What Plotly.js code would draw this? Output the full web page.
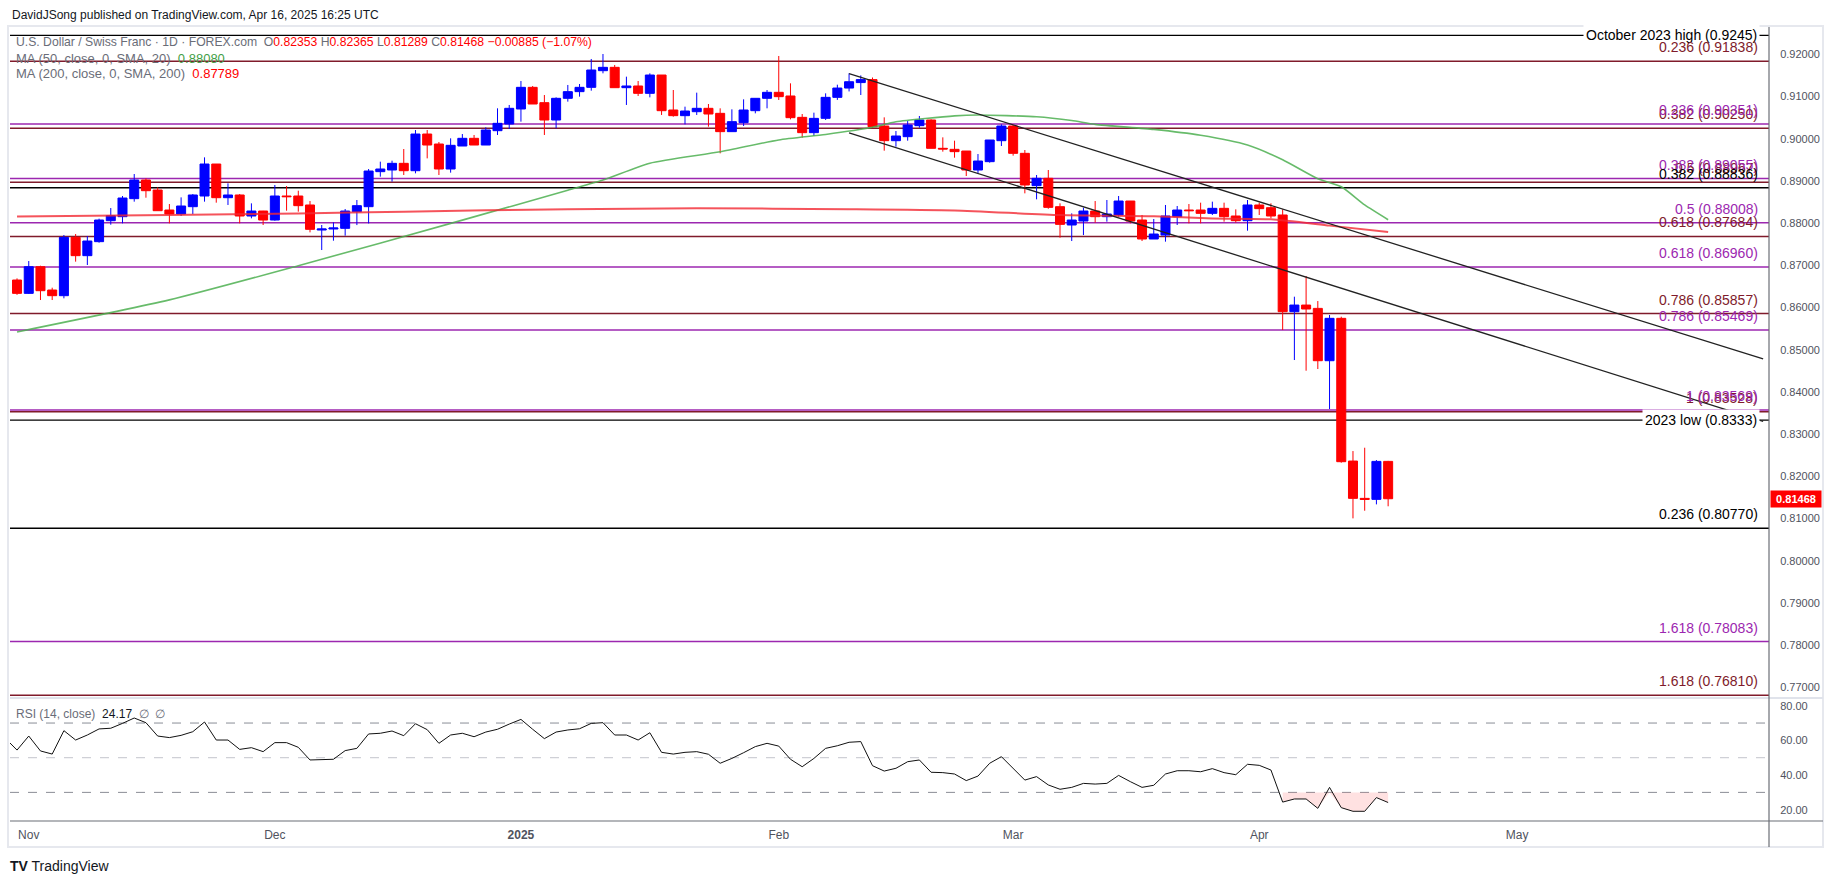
<!DOCTYPE html>
<html>
<head>
<meta charset="utf-8">
<script src="https://cdn.plot.ly/plotly-3.0.1.min.js"></script>
<style>
html,body{margin:0;padding:0;background:#fff;}
#chart{width:1835px;height:883px;}
</style>
</head>
<body>
<div id="chart"></div>
<script>
// ---------- DATA ----------
const dates = ['2024-10-31','2024-11-01','2024-11-04','2024-11-05','2024-11-06','2024-11-07','2024-11-08','2024-11-11','2024-11-12','2024-11-13','2024-11-14','2024-11-15','2024-11-18','2024-11-19','2024-11-20','2024-11-21','2024-11-22','2024-11-25','2024-11-26','2024-11-27','2024-11-28','2024-11-29','2024-12-02','2024-12-03','2024-12-04','2024-12-05','2024-12-06','2024-12-09','2024-12-10','2024-12-11','2024-12-12','2024-12-13','2024-12-16','2024-12-17','2024-12-18','2024-12-19','2024-12-20','2024-12-23','2024-12-24','2024-12-26','2024-12-27','2024-12-30','2024-12-31','2025-01-02','2025-01-03','2025-01-06','2025-01-07','2025-01-08','2025-01-09','2025-01-10','2025-01-13','2025-01-14','2025-01-15','2025-01-16','2025-01-17','2025-01-20','2025-01-21','2025-01-22','2025-01-23','2025-01-24','2025-01-27','2025-01-28','2025-01-29','2025-01-30','2025-01-31','2025-02-03','2025-02-04','2025-02-05','2025-02-06','2025-02-07','2025-02-10','2025-02-11','2025-02-12','2025-02-13','2025-02-14','2025-02-17','2025-02-18','2025-02-19','2025-02-20','2025-02-21','2025-02-24','2025-02-25','2025-02-26','2025-02-27','2025-02-28','2025-03-03','2025-03-04','2025-03-05','2025-03-06','2025-03-07','2025-03-10','2025-03-11','2025-03-12','2025-03-13','2025-03-14','2025-03-17','2025-03-18','2025-03-19','2025-03-20','2025-03-21','2025-03-24','2025-03-25','2025-03-26','2025-03-27','2025-03-28','2025-03-31','2025-04-01','2025-04-02','2025-04-03','2025-04-04','2025-04-07','2025-04-08','2025-04-09','2025-04-10','2025-04-11','2025-04-14','2025-04-15','2025-04-16'];

const openP = [0.86651,0.86335,0.86967,0.86414,0.86280,0.87662,0.87228,0.87560,0.88057,0.88152,0.88579,0.89021,0.88784,0.88310,0.88215,0.88389,0.88642,0.89400,0.88602,0.88666,0.88168,0.88286,0.88073,0.88642,0.88642,0.88429,0.87836,0.87860,0.87876,0.88271,0.88389,0.89219,0.89258,0.89416,0.89242,0.90111,0.89874,0.89282,0.89827,0.90009,0.89850,0.90190,0.90348,0.90704,0.91217,0.90854,0.90443,0.90957,0.91115,0.91217,0.91612,0.91691,0.91209,0.91249,0.91075,0.91509,0.90680,0.90546,0.90640,0.90720,0.90601,0.90167,0.90380,0.90664,0.90957,0.91099,0.91012,0.90506,0.90143,0.90483,0.90980,0.91200,0.91330,0.91400,0.90301,0.89953,0.90048,0.90309,0.90443,0.89772,0.89748,0.89708,0.89258,0.89456,0.89953,0.90301,0.89653,0.88887,0.89061,0.88389,0.87955,0.88049,0.88286,0.88152,0.88192,0.88523,0.88073,0.87623,0.87717,0.88152,0.88310,0.88310,0.88231,0.88350,0.88168,0.88057,0.88429,0.88365,0.88192,0.85900,0.86058,0.85979,0.84739,0.85743,0.82361,0.81477,0.81453,0.82353];
const highP = [0.86690,0.87101,0.86990,0.86469,0.87718,0.87741,0.87694,0.88105,0.88357,0.88642,0.89163,0.89061,0.88847,0.88452,0.88610,0.88689,0.89558,0.89400,0.88942,0.88689,0.88468,0.88290,0.88903,0.88879,0.88768,0.88523,0.87955,0.88018,0.88334,0.88547,0.89282,0.89456,0.89479,0.89756,0.90206,0.90206,0.89922,0.90009,0.90111,0.90088,0.90269,0.90720,0.90799,0.91367,0.91249,0.91035,0.90980,0.91273,0.91296,0.91889,0.92007,0.91747,0.91470,0.91367,0.91549,0.91509,0.91154,0.90759,0.91091,0.90822,0.90720,0.90696,0.90933,0.90957,0.91154,0.91960,0.91312,0.90585,0.90617,0.91075,0.91280,0.91550,0.91500,0.91450,0.90506,0.90182,0.90419,0.90538,0.90459,0.90032,0.89953,0.89708,0.89637,0.89969,0.90340,0.90325,0.89732,0.89140,0.89258,0.88468,0.88231,0.88365,0.88523,0.88547,0.88642,0.88523,0.88192,0.88097,0.88429,0.88405,0.88452,0.88484,0.88508,0.88484,0.88326,0.88547,0.88484,0.88468,0.88326,0.86256,0.86746,0.86153,0.85822,0.85782,0.82598,0.82677,0.82385,0.82365];
const lowP = [0.86300,0.86320,0.86177,0.86177,0.86217,0.87086,0.87007,0.87536,0.87962,0.87994,0.88508,0.88602,0.88294,0.87994,0.88168,0.88215,0.88508,0.88484,0.88429,0.87994,0.88113,0.87955,0.88057,0.88294,0.88271,0.87781,0.87362,0.87583,0.87702,0.87953,0.87992,0.89100,0.88982,0.89140,0.89179,0.89534,0.89140,0.89195,0.89827,0.89850,0.89850,0.90088,0.90230,0.90404,0.90822,0.90088,0.90246,0.90878,0.90996,0.91138,0.91549,0.91209,0.90799,0.91012,0.90980,0.90562,0.90522,0.90340,0.90562,0.90285,0.89653,0.90167,0.90301,0.90601,0.90720,0.90917,0.90459,0.90024,0.90064,0.90443,0.90920,0.91120,0.91035,0.90250,0.89716,0.89811,0.89953,0.90261,0.89772,0.89693,0.89550,0.89116,0.89179,0.89432,0.89827,0.89598,0.88705,0.88563,0.88340,0.87654,0.87575,0.87717,0.88010,0.88034,0.88152,0.87994,0.87575,0.87623,0.87560,0.87955,0.87994,0.87994,0.88192,0.88034,0.88010,0.87820,0.88192,0.88113,0.85466,0.84755,0.84502,0.84542,0.83594,0.82322,0.81003,0.81184,0.81334,0.81289];
const closeP = [0.86335,0.86967,0.86398,0.86280,0.87662,0.87228,0.87575,0.88073,0.88176,0.88594,0.89021,0.88768,0.88294,0.88215,0.88405,0.88666,0.89400,0.88602,0.88666,0.88168,0.88286,0.88073,0.88642,0.88626,0.88413,0.87852,0.87860,0.87883,0.88286,0.88413,0.89234,0.89282,0.89416,0.89242,0.90111,0.89850,0.89282,0.89843,0.90009,0.89850,0.90206,0.90364,0.90720,0.91217,0.90822,0.90443,0.90957,0.91115,0.91217,0.91628,0.91691,0.91209,0.91249,0.91075,0.91509,0.90664,0.90546,0.90656,0.90720,0.90585,0.90167,0.90404,0.90680,0.90957,0.91099,0.90996,0.90498,0.90143,0.90482,0.90980,0.91200,0.91350,0.91400,0.90285,0.89953,0.90064,0.90325,0.90443,0.89772,0.89756,0.89693,0.89258,0.89471,0.89969,0.90301,0.89653,0.88903,0.89061,0.88373,0.87970,0.88073,0.88286,0.88152,0.88215,0.88523,0.88049,0.87623,0.87741,0.88168,0.88310,0.88294,0.88231,0.88350,0.88152,0.88057,0.88429,0.88342,0.88168,0.85900,0.86058,0.85964,0.84739,0.85743,0.82346,0.81477,0.81453,0.82353,0.81468];

// Moving averages
const ma50Dates = ['2024-10-31','2024-11-19','2024-12-04','2024-12-24','2025-01-08','2025-01-13','2025-01-17','2025-01-27','2025-02-03','2025-02-07','2025-02-13','2025-02-17','2025-02-24','2025-02-26','2025-03-05','2025-03-10','2025-03-12','2025-03-19','2025-03-25','2025-03-31','2025-04-03','2025-04-08','2025-04-10','2025-04-14','2025-04-16'];
const ma50Vals = [0.8542,0.8618,0.8699,0.8807,0.8878,0.8902,0.8942,0.8969,0.8997,0.9010,0.9027,0.9040,0.9054,0.9056,0.9052,0.9043,0.9034,0.9022,0.9008,0.8985,0.8950,0.8905,0.8886,0.8843,0.8808];
const ma200Dates = ['2024-10-31','2024-11-19','2024-12-04','2024-12-17','2025-01-08','2025-01-23','2025-02-11','2025-02-24','2025-03-07','2025-03-19','2025-03-26','2025-04-02','2025-04-09','2025-04-16'];
const ma200Vals = [0.88156,0.8819,0.8823,0.8827,0.8833,0.8835,0.8833,0.8830,0.8819,0.8816,0.8811,0.8809,0.8794,0.87789];

// RSI (14)
const rsiDates = ['2024-10-30'].concat(dates);
const rsiVals = [61.2,54.4,62.5,53.9,52.1,65.6,60.2,63.1,66.6,67.0,69.8,72.9,70.2,62.5,61.6,62.9,65.0,70.6,60.2,60.2,54.8,55.8,53.5,58.7,58.7,56.0,48.7,49.1,49.1,54.1,55.4,63.7,64.1,65.4,62.7,69.6,66.2,58.3,63.1,64.1,62.1,64.8,66.4,69.4,72.1,66.4,61.0,64.8,66.0,66.7,69.8,70.2,63.1,63.1,60.2,64.4,53.1,52.1,53.1,53.5,52.0,46.8,49.6,52.9,56.4,58.3,56.7,49.1,44.8,49.6,55.4,56.9,58.9,59.3,45.4,42.3,43.9,47.7,48.7,41.6,41.4,40.6,36.8,39.4,46.8,50.6,43.9,37.1,39.1,34.3,31.8,32.9,35.2,34.8,35.2,39.8,36.2,32.9,34.1,40.6,42.5,42.5,41.9,43.7,41.4,40.2,46.2,45.6,42.9,24.4,26.2,26.2,20.8,32.9,21.2,19.1,19.1,27.0,24.17];

// Trend channel (drawn lines)
const upperTrendDates = ['2025-02-11','2025-05-30'];
const upperTrendVals = [0.9154,0.8478];
const lowerTrendDates = ['2025-02-11','2025-05-30'];
const lowerTrendVals = [0.9014,0.8330];

// Horizontal levels
const fibRedLevels = [0.91838,0.90250,0.88967,0.87684,0.85857,0.83528,0.76810];
const fibRedLabels = ['0.236 (0.91838)','0.382 (0.90250)','0.5 (0.88967)','0.618 (0.87684)','0.786 (0.85857)','1 (0.83528)','1.618 (0.76810)'];
const fibPurpleLevels = [0.90351,0.89055,0.88008,0.86960,0.85469,0.83569,0.78083];
const fibPurpleLabels = ['0.236 (0.90351)','0.382 (0.89055)','0.5 (0.88008)','0.618 (0.86960)','0.786 (0.85469)','1 (0.83569)','1.618 (0.78083)'];
const fibBlackLevels = [0.88836,0.80770];
const fibBlackLabels = ['0.382 (0.88836)','0.236 (0.80770)'];
const keyLevels = [0.9245,0.8333];
const keyLabels = ['October 2023 high (0.9245)','2023 low (0.8333)'];

const priceTicks = [0.77,0.78,0.79,0.80,0.81,0.82,0.83,0.84,0.85,0.86,0.87,0.88,0.89,0.90,0.91,0.92];
const rsiTicks = [20,40,60,80];
const monthTickDates = ['2024-11-01','2024-12-02','2025-01-02','2025-02-03','2025-03-03','2025-04-01','2025-05-01'];
const monthTickLabels = ['Nov','Dec','<b>2025</b>','Feb','Mar','Apr','May'];

const lastClose = closeP[closeP.length-1];

// ---------- STYLE ----------
const RED_FIB = '#801b2b';
const PURPLE_FIB = '#9c27b0';
const FONT = 'Liberation Sans, Arial, sans-serif';
const W = 1835, H = 883;
const M = {l:10, r:66, t:27, b:62};
const plotW = W - M.l - M.r, plotH = H - M.t - M.b;
const px2paperX = px => (px - M.l) / plotW;
const px2paperY = py => (H - M.b - py) / plotH;
const rsiDomainTop = (H - M.b - 698) / plotH;

// ---------- TRACES ----------
const traces = [];
traces.push({
  type:'candlestick', x:dates, open:openP, high:highP, low:lowP, close:closeP,
  xaxis:'x', yaxis:'y',
  increasing:{line:{color:'#0000ff', width:1}, fillcolor:'#0000ff'},
  decreasing:{line:{color:'#ff0000', width:1}, fillcolor:'#ff0000'},
  whiskerwidth:0, hoverinfo:'skip'
});
traces.push({type:'scatter', mode:'lines', x:ma50Dates, y:ma50Vals, xaxis:'x', yaxis:'y',
  line:{color:'rgba(76,175,80,0.85)', width:1.6, shape:'spline', smoothing:0.6}, hoverinfo:'skip'});
traces.push({type:'scatter', mode:'lines', x:ma200Dates, y:ma200Vals, xaxis:'x', yaxis:'y',
  line:{color:'rgba(242,40,50,0.8)', width:2, shape:'spline', smoothing:0.6}, hoverinfo:'skip'});
traces.push({type:'scatter', mode:'lines', x:upperTrendDates, y:upperTrendVals, xaxis:'x', yaxis:'y',
  line:{color:'#222', width:1.3}, hoverinfo:'skip'});
traces.push({type:'scatter', mode:'lines', x:lowerTrendDates, y:lowerTrendVals, xaxis:'x', yaxis:'y',
  line:{color:'#222', width:1.3}, hoverinfo:'skip'});

// RSI oversold fill (between 30 and RSI when below 30)
const osStart = rsiVals.findIndex((v,i)=> i>0 && v<30) - 1;
const osDates = rsiDates.slice(osStart+1);
const osBase = osDates.map(()=>30);
const osClip = rsiVals.slice(osStart+1).map(v=>Math.min(v,30));
traces.push({type:'scatter', mode:'lines', x:osDates, y:osBase, xaxis:'x', yaxis:'y2',
  line:{width:0, color:'rgba(0,0,0,0)'}, hoverinfo:'skip'});
traces.push({type:'scatter', mode:'lines', x:osDates, y:osClip, xaxis:'x', yaxis:'y2',
  fill:'tonexty', fillcolor:'rgba(255,90,90,0.18)', line:{width:0, color:'rgba(0,0,0,0)'}, hoverinfo:'skip'});
traces.push({type:'scatter', mode:'lines', x:rsiDates, y:rsiVals, xaxis:'x', yaxis:'y2',
  line:{color:'#111', width:1}, hoverinfo:'skip'});

// ---------- SHAPES ----------
const shapes = [];
function hline(y, color, width, dash, yref){
  shapes.push({type:'line', xref:'paper', x0:0, x1:1, yref:yref||'y', y0:y, y1:y,
    line:{color:color, width:width, dash:dash||'solid'}, layer:'below'});
}
fibRedLevels.forEach(v=>hline(v, RED_FIB, 1.5));
fibPurpleLevels.forEach(v=>hline(v, PURPLE_FIB, 1.5));
fibBlackLevels.forEach(v=>hline(v, '#000', 1.5));
keyLevels.forEach(v=>hline(v, '#000', 1.3));
hline(70, '#8a8d96', 1, 'dash', 'y2');
hline(50, '#c3c5cc', 1, 'dash', 'y2');
hline(30, '#8a8d96', 1, 'dash', 'y2');

// frame and separators
shapes.push({type:'rect', xref:'paper', yref:'paper', x0:px2paperX(8), x1:px2paperX(1823), y0:px2paperY(847), y1:px2paperY(26),
  line:{color:'#e6e8ee', width:2}, fillcolor:'rgba(0,0,0,0)', layer:'below'});
shapes.push({type:'line', xref:'paper', yref:'paper', x0:px2paperX(10), x1:px2paperX(1823), y0:rsiDomainTop, y1:rsiDomainTop,
  line:{color:'#e0e3eb', width:2}});
shapes.push({type:'line', xref:'paper', yref:'paper', x0:px2paperX(10), x1:px2paperX(1823), y0:0, y1:0,
  line:{color:'#6b6e76', width:1.2}});
shapes.push({type:'line', xref:'paper', yref:'paper', x0:1, x1:1, y0:px2paperY(847), y1:px2paperY(27),
  line:{color:'#6b6e76', width:1.2}});

// ---------- ANNOTATIONS ----------
const ann = [];
const labelX = px2paperX(1760);
keyLevels.forEach((v,i)=>ann.push({xref:'paper', x:labelX, xanchor:'right', yref:'y', y:v, yanchor:'middle',
  text:keyLabels[i], showarrow:false, bgcolor:'#ffffff', borderpad:2,
  font:{family:FONT, size:14, color:'#000'}}));
function fibLabel(v, t, c){
  ann.push({xref:'paper', x:labelX, xanchor:'right', yref:'y', y:v, yanchor:'bottom', yshift:4,
    text:t, showarrow:false, font:{family:FONT, size:14, color:c}});
}
fibRedLevels.forEach((v,i)=>fibLabel(v, fibRedLabels[i], RED_FIB));
fibPurpleLevels.forEach((v,i)=>fibLabel(v, fibPurpleLabels[i], PURPLE_FIB));
fibBlackLevels.forEach((v,i)=>fibLabel(v, fibBlackLabels[i], '#000'));

// last price tag
ann.push({xref:'paper', x:1, xanchor:'left', xshift:1, yref:'y', y:lastClose, yanchor:'middle',
  text:'<b>'+lastClose.toFixed(5)+'</b>', showarrow:false, bgcolor:'#ff0000', borderpad:2, width:46,
  font:{family:FONT, size:11, color:'#fff'}});

// header texts
const G = '#6a6d78';
ann.push({xref:'paper', yref:'paper', x:px2paperX(10), y:px2paperY(15), xanchor:'left', yanchor:'middle', showarrow:false,
  text:'DavidJSong published on TradingView.com, Apr 16, 2025 16:25 UTC', font:{family:FONT, size:12, color:'#131722'}});
const o=openP[openP.length-1], h=highP[highP.length-1], l=lowP[lowP.length-1], c=lastClose;
const chg = c - closeP[closeP.length-2];
const pct = chg / closeP[closeP.length-2] * 100;
const fmtSigned = v => (v<0?'\u2212':'+') + Math.abs(v).toFixed(5);
ann.push({xref:'paper', yref:'paper', x:px2paperX(14), y:px2paperY(42), xanchor:'left', yanchor:'middle', showarrow:false,
  text:'<span style="color:'+G+'">U.S. Dollar / Swiss Franc · 1D · FOREX.com  O</span><span style="color:#ff0000">'+o.toFixed(5)+'</span>'+
       '<span style="color:'+G+'"> H</span><span style="color:#ff0000">'+h.toFixed(5)+'</span>'+
       '<span style="color:'+G+'"> L</span><span style="color:#ff0000">'+l.toFixed(5)+'</span>'+
       '<span style="color:'+G+'"> C</span><span style="color:#ff0000">'+c.toFixed(5)+' '+fmtSigned(chg)+' ('+(pct<0?'\u2212':'+')+Math.abs(pct).toFixed(2)+'%)</span>',
  font:{family:FONT, size:12.2, color:G}});
ann.push({xref:'paper', yref:'paper', x:px2paperX(14), y:px2paperY(58), xanchor:'left', yanchor:'middle', showarrow:false,
  text:'<span style="color:'+G+'">MA (50, close, 0, SMA, 20)  </span><span style="color:#43a047">'+ma50Vals[ma50Vals.length-1].toFixed(5)+'</span>',
  font:{family:FONT, size:13, color:G}});
ann.push({xref:'paper', yref:'paper', x:px2paperX(14), y:px2paperY(74), xanchor:'left', yanchor:'middle', showarrow:false,
  text:'<span style="color:'+G+'">MA (200, close, 0, SMA, 200)  </span><span style="color:#ff0000">'+ma200Vals[ma200Vals.length-1].toFixed(5)+'</span>',
  font:{family:FONT, size:13, color:G}});
ann.push({xref:'paper', yref:'paper', x:px2paperX(14), y:px2paperY(714), xanchor:'left', yanchor:'middle', showarrow:false,
  text:'<span style="color:'+G+'">RSI (14, close)  </span><span style="color:#131722">'+rsiVals[rsiVals.length-1].toFixed(2)+'</span><span style="color:'+G+'">  \u2205  \u2205</span>',
  font:{family:FONT, size:12, color:G}});
ann.push({xref:'paper', yref:'paper', x:px2paperX(8), y:px2paperY(866), xanchor:'left', yanchor:'middle', showarrow:false,
  text:'<b>TV</b> TradingView', font:{family:FONT, size:14, color:'#131722'}});

// ---------- LAYOUT ----------
const axisFont = {family:FONT, size:11, color:'#50535e'};
const layout = {
  width:W, height:H, margin:M,
  paper_bgcolor:'#ffffff', plot_bgcolor:'#ffffff',
  showlegend:false, hovermode:false,
  boxgap:0.23, boxgroupgap:0,
  xaxis:{type:'date', anchor:'y2', domain:[0,1],
    range:['2024-10-30 09:36','2025-05-30 12:00'],
    rangebreaks:[{bounds:['sat','mon']},{values:['2024-12-25','2025-01-01']}],
    rangeslider:{visible:false},
    tickmode:'array', tickvals:monthTickDates, ticktext:monthTickLabels,
    ticks:'outside', ticklen:3, tickcolor:'rgba(0,0,0,0)',
    showgrid:false, zeroline:false, showline:false, tickfont:{family:FONT, size:12, color:'#50535e'}},
  yaxis:{domain:[rsiDomainTop,1], anchor:'x', side:'right',
    range:[0.76746,0.92647], tickmode:'array', tickvals:priceTicks, tickformat:'.5f',
    ticks:'outside', ticklen:8, tickcolor:'rgba(0,0,0,0)',
    showgrid:false, zeroline:false, showline:false, tickfont:axisFont},
  yaxis2:{domain:[0,rsiDomainTop], anchor:'x', side:'right',
    range:[13.5,84.44], tickmode:'array', tickvals:rsiTicks, tickformat:'.2f',
    ticks:'outside', ticklen:8, tickcolor:'rgba(0,0,0,0)',
    showgrid:false, zeroline:false, showline:false, tickfont:axisFont},
  shapes:shapes, annotations:ann
};

Plotly.newPlot('chart', traces, layout, {staticPlot:true, displayModeBar:false});
</script>
</body>
</html>
